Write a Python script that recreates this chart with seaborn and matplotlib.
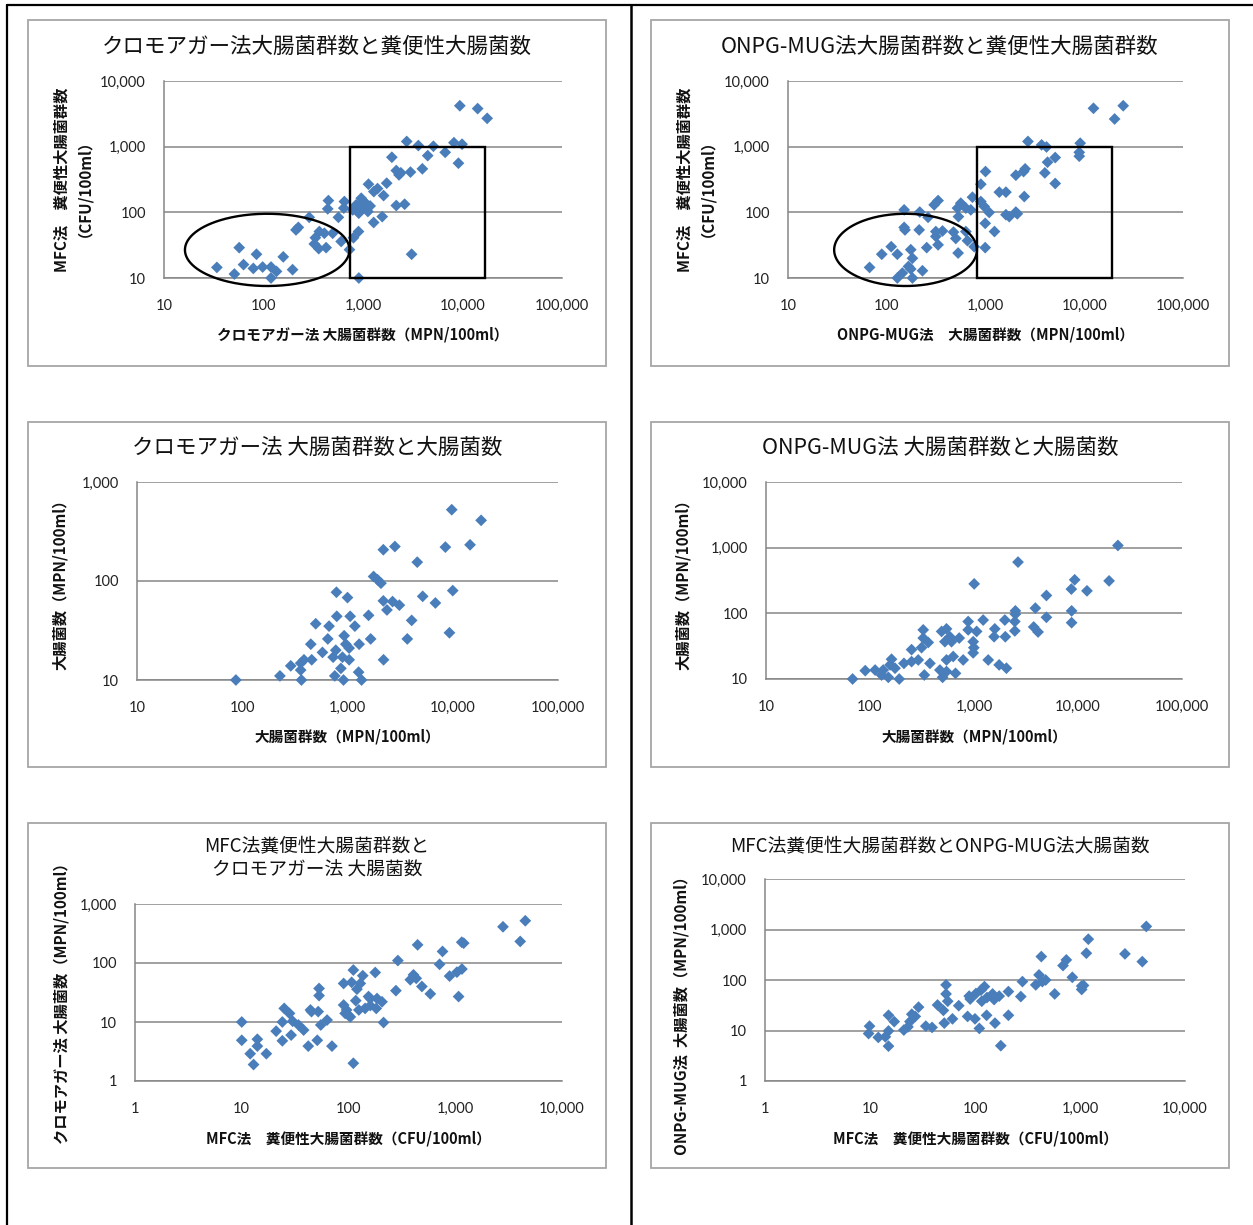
import numpy as np
import pandas as pd
import matplotlib
matplotlib.use("Agg")
import matplotlib.pyplot as plt
from matplotlib.patches import Rectangle
from matplotlib.lines import Line2D
from matplotlib.ticker import FixedLocator, FuncFormatter, NullLocator
import seaborn as sns

sns.set_theme(style="white")
plt.rcParams["font.family"] = ["Noto Sans CJK JP", "DejaVu Sans"]

# --- クロモアガー法 大腸菌群数 vs MFC法 糞便性大腸菌群数 ---
chromo_coliform_a = [9400, 14200, 17700, 2750, 3600, 5100, 8200, 9900, 6700, 4470,
                     1950, 9100, 3950, 3000, 2160, 2300, 2400, 1730, 1135, 1285,
                     1610, 2160, 2620, 1560, 1280, 960, 853, 996, 1120, 907,
                     789, 650, 641, 449, 442, 566, 288, 224, 212, 364,
                     409, 496, 332, 324, 359, 426, 603, 731, 901, 802,
                     3080, 908, 57, 85, 34, 51, 63, 79, 98, 119,
                     135, 119, 158, 196, 1050, 1180, 1000, 1400]
mfc_fecal_a = [4200, 3800, 2700, 1200, 1040, 1015, 1150, 1090, 820, 730,
               690, 560, 460, 410, 433, 372, 400, 278, 268, 207,
               180, 127, 133, 86, 70, 164, 130, 116, 103, 97,
               109, 146, 116, 151, 113, 84, 84, 59, 54, 51,
               48, 48, 41, 33, 28, 29, 36, 27, 51, 41,
               23, 10, 29, 23, 14.5, 11.5, 16, 14, 14.7, 14.7,
               12.6, 10, 21, 13.4, 140, 125, 150, 230]

# --- ONPG-MUG法 大腸菌群数 vs MFC法 糞便性大腸菌群数 ---
onpg_coliform_a = [12400, 24800, 20300, 2690, 3700, 4150, 9100, 8900, 8900, 5080,
                   4250, 3990, 5080, 2520, 2430, 2030, 1000, 897, 1380, 1610,
                   2470, 738, 897, 969, 1090, 1610, 1740, 2030, 2100, 993,
                   1233, 993, 767, 562, 520, 632, 710, 532, 331, 302,
                   216, 150, 262, 150, 153, 213, 314, 367, 314, 474,
                   500, 632, 657, 331, 254, 528, 111, 89, 128, 175,
                   182, 67, 144, 166, 128, 182, 230, 175]
mfc_fecal_b = [3840, 4200, 2640, 1200, 1065, 990, 1130, 820, 716, 683,
               580, 399, 275, 459, 418, 368, 418, 268, 203, 203,
               174, 170, 146, 123, 99.6, 92, 86, 101, 95, 68,
               51, 29, 30, 138, 116, 116, 109, 86, 151, 130,
               101, 109, 84, 59, 54, 54, 51, 52, 43, 50,
               40, 51, 37, 32, 29, 24, 30, 23, 23, 27,
               20, 14.5, 11.9, 15, 10, 10, 12.9, 13.7]

# --- クロモアガー法 大腸菌群数 vs 大腸菌数 ---
chromo_coliform_b = [9780, 18600, 14600, 8510, 2190, 2820, 4600, 1770, 1930, 2080,
                     10000, 5180, 6840, 2190, 2680, 3110, 2370, 785, 1000, 791,
                     1060, 1585, 4070, 1175, 668, 499, 650, 929, 1660, 3700,
                     9300, 448, 578, 774, 964, 1037, 1290, 730, 896, 1037,
                     457, 386, 359, 289, 359, 865, 2200, 228, 365, 757,
                     916, 1275, 1360, 87]
chromo_ecoli = [525, 410, 232, 220, 207, 223, 155, 111, 103, 95,
                80, 70, 60, 63, 62, 57, 51, 77, 68, 44,
                44, 45, 40, 35, 35, 37, 26, 28, 26, 26,
                30, 23, 19, 20, 23, 21, 23, 17, 17, 16,
                16, 16, 14.8, 13.9, 12.6, 13.1, 16, 11, 10, 11,
                10, 12, 10, 10]

# --- ONPG-MUG法 大腸菌群数 vs 大腸菌数 ---
onpg_coliform_b = [24200, 2650, 1004, 19900, 9290, 8630, 12200, 4970, 3890, 2500,
                   2500, 4970, 8680, 8680, 2470, 1980, 1225, 879, 1585, 2470,
                   3750, 4130, 2000, 1560, 1060, 879, 721, 586, 488, 544,
                   608, 525, 982, 996, 982, 325, 325, 363, 313, 251,
                   291, 251, 212, 377, 161, 156, 174, 134, 112, 90,
                   129, 150, 68, 191, 333, 499, 470, 544, 664, 631,
                   544, 787, 1370, 1745, 2050]
onpg_ecoli_a = [1080, 603, 281, 312, 324, 234, 220, 187, 120, 109,
                97, 87, 109, 72, 75, 79, 79, 75, 58, 54,
                62, 52, 44, 44, 53, 56, 42, 44, 53, 58,
                37, 37, 37, 30, 25, 56, 42, 36, 30, 28,
                19.5, 18.4, 17.3, 17.3, 20, 16.4, 14.6, 13.7, 13.7, 13.4,
                11.5, 10.6, 10, 10, 11.5, 10.6, 13.7, 13, 12.2, 22,
                19.5, 19.5, 19.5, 16.4, 14.6]

# --- MFC法 糞便性大腸菌群数 vs クロモアガー法 大腸菌数 ---
mfc_fecal_c = [4530, 2800, 4060, 1200, 1150, 444, 760, 290, 713, 1155,
               1037, 885, 1075, 406, 431, 379, 487, 584, 278, 178,
               136, 111, 90, 107, 129, 120, 117, 154, 185, 206,
               160, 182, 143, 90, 93, 104, 96, 213, 111, 53,
               53, 44, 52, 63, 55, 51, 42, 70, 25, 28,
               24, 30, 34, 38, 21, 29, 24, 10, 10, 14,
               14, 12, 17, 12.9, 100, 125, 160, 45]
chromo_ecoli_b = [520, 411, 232, 217, 225, 203, 157, 110, 95, 79,
                  70, 60, 27, 63, 55, 52, 40, 30, 34, 69,
                  61, 76, 45, 47, 45, 36, 23, 27, 25, 22,
                  19, 17, 17, 19.4, 14, 12.2, 16, 9.8, 2, 37,
                  28, 16, 15, 10.8, 8.9, 4.9, 3.9, 3.9, 17, 14,
                  10, 10.3, 8.9, 7.3, 7, 6, 4.8, 10, 4.9, 5.1,
                  3.9, 2.9, 2.9, 1.9, 13, 16, 25, 15]

# --- MFC法 糞便性大腸菌群数 vs ONPG-MUG法 大腸菌数 ---
mfc_fecal_d = [4280, 2680, 3920, 1200, 1150, 428, 741, 689, 845, 1037,
               1037, 1080, 574, 407, 438, 471, 379, 283, 273, 208,
               208, 170, 152, 176, 155, 129, 123, 114, 102, 88,
               90, 116, 147, 85, 100, 110, 70, 53, 53, 44,
               50, 61, 51, 39, 34, 29, 27, 25, 24, 21,
               23, 15, 17, 15, 14, 12, 9.7, 9.9, 15, 55, 130]
onpg_ecoli_b = [1150, 329, 231, 643, 339, 291, 250, 193, 113, 76,
                65, 78, 53, 126, 93, 100, 80, 93, 47, 59,
                20, 48, 41, 5, 14, 20, 74, 63, 54, 48,
                42, 38, 53, 19, 17, 11, 31, 80, 53, 32,
                25, 17, 14, 11.5, 12.2, 29, 19, 21, 15, 10.2,
                11.8, 20, 15, 9.8, 7.5, 7.3, 8.7, 12.2, 4.9, 38, 45]

# Highlight shapes on the two fecal-coliform charts (data units)
box_a_x = [743, 17000]
box_b_x = [824, 19000]
box_y = [10, 1000]
ellipse_a = dict(cx=109, cy=26.8, half_w=0.827, half_h=0.55)   # half sizes in decades
ellipse_b = dict(cx=155, cy=26.8, half_w=0.723, half_h=0.55)

BLUE = "#4A7EBB"
GRID = "#868686"
W, H = 1253, 1225

fig = plt.figure(figsize=(W / 100, H / 100), dpi=100)
fig.patch.set_facecolor("white")


def fig_box(x0, y0, x1, y1):
    return [x0 / W, 1 - y1 / H, (x1 - x0) / W, (y1 - y0) / H]


def fmt(v, _):
    return f"{int(round(v)):,}"


panels = [
    dict(frame=(28, 20, 606, 366), axes=(164, 81, 562, 278),
         x=chromo_coliform_a, y=mfc_fecal_a, xlim=(10, 1e5), ylim=(10, 1e4),
         title="クロモアガー法大腸菌群数と糞便性大腸菌数", title_y=47, title_size=15.5,
         xlabel="クロモアガー法 大腸菌群数（MPN/100ml）", xlabel_y=335,
         ylabel="MFC法　糞便性大腸菌群数\n（CFU/100ml）", ylabel_x=69, ylabel_y=180,
         box_x=box_a_x, ellipse=ellipse_a),
    dict(frame=(651, 20, 1229, 366), axes=(788, 81, 1183, 278),
         x=onpg_coliform_a, y=mfc_fecal_b, xlim=(10, 1e5), ylim=(10, 1e4),
         title="ONPG-MUG法大腸菌群数と糞便性大腸菌群数", title_y=47, title_size=15.5,
         xlabel="ONPG-MUG法　大腸菌群数（MPN/100ml）", xlabel_y=335,
         ylabel="MFC法　糞便性大腸菌群数\n（CFU/100ml）", ylabel_x=692, ylabel_y=180,
         box_x=box_b_x, ellipse=ellipse_b),
    dict(frame=(28, 422, 606, 767), axes=(137, 482, 558, 680),
         x=chromo_coliform_b, y=chromo_ecoli, xlim=(10, 1e5), ylim=(10, 1e3),
         title="クロモアガー法 大腸菌群数と大腸菌数", title_y=448, title_size=15.5,
         xlabel="大腸菌群数（MPN/100ml）", xlabel_y=737,
         ylabel="大腸菌数（MPN/100ml）", ylabel_x=60, ylabel_y=581),
    dict(frame=(651, 422, 1229, 767), axes=(766, 482, 1182, 679),
         x=onpg_coliform_b, y=onpg_ecoli_a, xlim=(10, 1e5), ylim=(10, 1e4),
         title="ONPG-MUG法 大腸菌群数と大腸菌数", title_y=448, title_size=15.5,
         xlabel="大腸菌群数（MPN/100ml）", xlabel_y=737,
         ylabel="大腸菌数（MPN/100ml）", ylabel_x=683, ylabel_y=581),
    dict(frame=(28, 823, 606, 1168), axes=(135, 904, 562, 1081),
         x=mfc_fecal_c, y=chromo_ecoli_b, xlim=(1, 1e4), ylim=(1, 1e3),
         title="MFC法糞便性大腸菌群数と\nクロモアガー法 大腸菌数", title_y=858, title_size=13.5,
         xlabel="MFC法　糞便性大腸菌群数（CFU/100ml）", xlabel_y=1138,
         ylabel="クロモアガー法 大腸菌数（MPN/100ml）", ylabel_x=62, ylabel_y=1000),
    dict(frame=(651, 823, 1229, 1168), axes=(765, 879, 1185, 1081),
         x=mfc_fecal_d, y=onpg_ecoli_b, xlim=(1, 1e4), ylim=(1, 1e4),
         title="MFC法糞便性大腸菌群数とONPG-MUG法大腸菌数", title_y=846, title_size=13.5,
         xlabel="MFC法　糞便性大腸菌群数（CFU/100ml）", xlabel_y=1138,
         ylabel="ONPG-MUG法  大腸菌数（MPN/100ml）", ylabel_x=682, ylabel_y=1012),
]

for p in panels:
    fx0, fy0, fx1, fy1 = p["frame"]
    fig.add_artist(Rectangle((fx0 / W, 1 - fy1 / H), (fx1 - fx0) / W, (fy1 - fy0) / H,
                             transform=fig.transFigure, fill=False,
                             edgecolor="#a6a6a6", lw=1.3))

    ax = fig.add_axes(fig_box(*p["axes"]))
    ax.set_xscale("log")
    ax.set_yscale("log")
    df = pd.DataFrame({"x": p["x"], "y": p["y"]})
    sns.scatterplot(data=df, x="x", y="y", ax=ax, marker="D", s=36, color=BLUE,
                    edgecolor="none", linewidth=0, zorder=3, clip_on=False, legend=False)
    ax.set_xlim(*p["xlim"])
    ax.set_ylim(*p["ylim"])

    xt = 10.0 ** np.arange(np.log10(p["xlim"][0]), np.log10(p["xlim"][1]) + 1)
    yt = 10.0 ** np.arange(np.log10(p["ylim"][0]), np.log10(p["ylim"][1]) + 1)
    ax.xaxis.set_major_locator(FixedLocator(xt))
    ax.yaxis.set_major_locator(FixedLocator(yt))
    ax.xaxis.set_minor_locator(NullLocator())
    ax.yaxis.set_minor_locator(NullLocator())
    ax.xaxis.set_major_formatter(FuncFormatter(fmt))
    ax.yaxis.set_major_formatter(FuncFormatter(fmt))

    ax.yaxis.grid(True, color=GRID, lw=1.1)
    ax.xaxis.grid(False)
    ax.set_axisbelow(True)
    for side in ("top", "right"):
        ax.spines[side].set_visible(False)
    for side in ("left", "bottom"):
        ax.spines[side].set_color(GRID)
        ax.spines[side].set_linewidth(1.1)
    ax.tick_params(axis="x", direction="out", length=4, width=1, color=GRID,
                   pad=11, labelsize=10.5, labelcolor="#222222")
    ax.tick_params(axis="y", direction="out", length=4, width=1, color=GRID,
                   pad=9, labelsize=10.5, labelcolor="#222222")
    for lab in ax.get_xticklabels() + ax.get_yticklabels():
        lab.set_fontfamily(["Lato", "DejaVu Sans"])
    ax.set_xlabel("")
    ax.set_ylabel("")

    if "box_x" in p:
        bx = p["box_x"]
        ax.add_patch(Rectangle((bx[0], box_y[0]), bx[1] - bx[0], box_y[1] - box_y[0],
                               fill=False, edgecolor="black", lw=1.7, zorder=4,
                               clip_on=False))
        e = p["ellipse"]
        t = np.linspace(0, 2 * np.pi, 300)
        ex = 10 ** (np.log10(e["cx"]) + e["half_w"] * np.cos(t))
        ey = 10 ** (np.log10(e["cy"]) + e["half_h"] * np.sin(t))
        ax.plot(ex, ey, color="black", lw=1.7, zorder=4, clip_on=False)

    cx = (fx0 + fx1) / 2
    fig.text(cx / W, 1 - p["title_y"] / H, p["title"], ha="center", va="center",
             fontsize=p["title_size"], color="#111111", linespacing=1.25)
    ax_cx = (p["axes"][0] + p["axes"][2]) / 2
    fig.text(ax_cx / W, 1 - p["xlabel_y"] / H, p["xlabel"], ha="center", va="center",
             fontsize=10.5, fontweight="bold", color="#111111")
    fig.text(p["ylabel_x"] / W, 1 - p["ylabel_y"] / H, p["ylabel"], ha="center",
             va="center", rotation=90, fontsize=11, fontweight="bold",
             color="#111111", linespacing=0.95, multialignment="center")

# Page frame and the divider between the two columns
fig.add_artist(Line2D([7 / W, 7 / W], [0, 1 - 5 / H], transform=fig.transFigure,
                      color="black", lw=1.6))
fig.add_artist(Line2D([631 / W, 631 / W], [0, 1 - 5 / H], transform=fig.transFigure,
                      color="black", lw=1.8))
fig.add_artist(Line2D([7 / W, 1], [1 - 5 / H, 1 - 5 / H], transform=fig.transFigure,
                      color="black", lw=1.6))

fig.savefig("out.png", dpi=100, facecolor="white")
